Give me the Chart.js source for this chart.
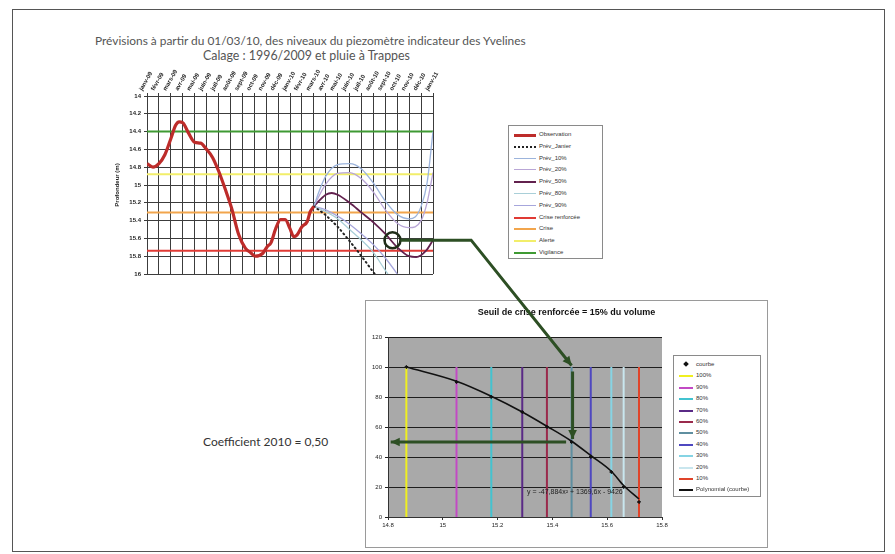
<!DOCTYPE html>
<html>
<head>
<meta charset="utf-8">
<script src="https://cdn.jsdelivr.net/npm/chart.js@4.4.1/dist/chart.umd.min.js"></script>
<style>
  body { margin: 0; background: #fff; }
  #page { position: relative; width: 895px; height: 554px; overflow: hidden; font-family: Lato, "Liberation Sans", sans-serif; }
  #frame { position: absolute; left: 12px; top: 9px; width: 873px; height: 543px; border: 1px solid #555; box-sizing: border-box; }
  .txt { position: absolute; white-space: nowrap; color: #555; font-size: 11.9px; line-height: 14px; }
  canvas { position: absolute; }
  #bottomBox { position: absolute; left: 365px; top: 300px; width: 403px; height: 248px; border: 1px solid #9a9a9a; box-sizing: border-box; background: #fff; }
  .legend { position: absolute; border: 1px solid #8a8a8a; background: #fff; box-sizing: border-box;
            font-family: "Liberation Sans", Arial, sans-serif; font-size: 6px; color: #333; }
  .legend .row { position: absolute; left: 0; right: 0; height: 10px; line-height: 10px; }
  .legend .sample { position: absolute; top: 5px; height: 0; }
  .legend .dot { position: absolute; top: 3px; width: 4px; height: 4px; background: #111; transform: rotate(45deg); }
  .legend .lbl { position: absolute; white-space: nowrap; }
  #equation { position: absolute; left: 527px; top: 488px; font-family: "Liberation Sans", Arial, sans-serif; font-size: 7px; color: #222; white-space: nowrap; }
</style>
</head>
<body>
<div id="page">
  <div id="frame"></div>
  <div class="txt" style="left:95px; top:34px;">Prévisions à partir du 01/03/10, des niveaux du piezomètre indicateur des Yvelines</div>
  <div class="txt" style="left:203px; top:49px; font-size:12.4px;">Calage : 1996/2009 et pluie à Trappes</div>
  <canvas id="topChart" width="345" height="218" style="left:100px; top:60px;"></canvas>
  <div class="legend" id="topLegend" style="left:508px; top:125px; width:95px; height:134px;"></div>

  <div id="bottomBox"></div>
  <canvas id="bottomChart" width="403" height="248" style="left:365px; top:300px;"></canvas>
  <div class="legend" id="bottomLegend" style="left:673px; top:355px; width:88px; height:142px;"></div>
  <div id="equation">y = -47,884x² + 1369,6x - 9426</div>

  <div class="txt" style="left:203px; top:435px; font-size:12px; color:#333;">Coefficient 2010 = 0,50</div>
  <canvas id="overlay" width="895" height="554" style="left:0; top:0;"></canvas>
</div>

<script>
// x axis of the top chart: one label per month, index 0 = janv-09
const monthLabels = ['janv-09', 'févr-09', 'mars-09', 'avr-09', 'mai-09', 'juin-09', 'juil-09', 'août-09',
  'sept-09', 'oct-09', 'nov-09', 'déc-09', 'janv-10', 'févr-10', 'mars-10', 'avr-10', 'mai-10', 'juin-10',
  'juil-10', 'août-10', 'sept-10', 'oct-10', 'nov-10', 'déc-10', 'janv-11'];

// observed depth (m), x in months from janv-09
const obsX = [0, 0.5, 1, 1.5, 2, 2.4, 2.7, 3, 3.5, 4, 4.5, 5, 5.5, 6, 6.6, 7.1, 7.7, 8.25, 8.7, 9.1, 9.7,
  10.1, 10.4, 10.8, 11.2, 11.6, 12, 12.3, 12.6, 13, 13.45, 13.7, 14];
const obsY = [14.76, 14.80, 14.76, 14.66, 14.48, 14.33, 14.29, 14.30, 14.42, 14.52, 14.53, 14.60, 14.69,
  14.84, 15.06, 15.26, 15.56, 15.71, 15.76, 15.80, 15.77, 15.69, 15.65, 15.49, 15.39, 15.39, 15.49, 15.58,
  15.56, 15.47, 15.41, 15.30, 15.24];

// forecasts from 01/03/10
const janierX = [14, 15, 16, 17, 18, 19, 20];
const janierY = [15.24, 15.34, 15.47, 15.63, 15.80, 15.98, 16.15];
const p10X = [14, 14.5, 15, 16, 17, 18, 19, 20, 21, 22, 22.5, 23, 23.5, 24];
const p10Y = [15.24, 15.05, 14.90, 14.77, 14.76, 14.82, 14.98, 15.18, 15.33, 15.38, 15.36, 15.24, 14.98, 14.40];
const p20X = [14, 15, 16, 17, 18, 19, 20, 21, 22, 23, 23.5, 24];
const p20Y = [15.24, 14.99, 14.87, 14.86, 14.93, 15.08, 15.28, 15.43, 15.48, 15.40, 15.20, 14.86];
const p50X = [14, 15, 15.5, 16, 17, 18, 19, 20, 21, 22, 22.6, 23.4, 24];
const p50Y = [15.24, 15.11, 15.09, 15.11, 15.20, 15.31, 15.42, 15.55, 15.70, 15.80, 15.81, 15.74, 15.62];
const p80X = [14, 15, 16, 17, 18, 19, 20, 21];
const p80Y = [15.24, 15.30, 15.38, 15.50, 15.62, 15.76, 15.96, 16.15];
const p90X = [14, 15, 16, 17, 18, 19, 20, 21, 22];
const p90Y = [15.24, 15.28, 15.35, 15.44, 15.55, 15.67, 15.82, 16.00, 16.20];

// alert thresholds (m)
const seuilNames = ['Crise renforcée', 'Crise', 'Alerte', 'Vigilance'];
const seuilValues = [15.74, 15.31, 14.88, 14.40];
const seuilColors = ['#e03a34', '#f2a54c', '#f2ee6a', '#3f9a33'];

// bottom chart: volume curve
const volumeLabels = ['100%', '90%', '80%', '70%', '60%', '50%', '40%', '30%', '20%', '10%'];
const volumePct = [100, 90, 80, 70, 60, 50, 40, 30, 20, 10];
const volumeLevels = [14.867, 15.05, 15.177, 15.29, 15.38, 15.47, 15.54, 15.615, 15.66, 15.716];
const volumeColors = ['#f0f020', '#c24ac4', '#43c3d0', '#5a2a86', '#9a2a4c', '#5f8fa0', '#4f48c0', '#86d4e4', '#c9e6ee', '#e0442a'];
const polyY = [100, 90.5, 80.5, 70, 60.5, 50.5, 41, 30.5, 21, 12];

const tickFont = { family: '"Liberation Sans", Arial, sans-serif', size: 6, weight: 'bold' };
const smallFont = { family: '"Liberation Sans", Arial, sans-serif', size: 6 };
const pts = (xs, ys) => xs.map((x, i) => ({ x, y: ys[i] }));
const fmt = v => String(+(+v).toFixed(1));

function curve(label, xs, ys, color, width, extra) {
  return Object.assign({
    label, data: pts(xs, ys), borderColor: color, backgroundColor: color, borderWidth: width,
    pointRadius: 0, cubicInterpolationMode: 'monotone', order: 1
  }, extra || {});
}

const topDatasets = [
  curve('Observation', obsX, obsY, '#bd2c2a', 3.2, { order: 0 }),
  curve('Prév_Janier', janierX, janierY, '#222', 2, { borderDash: [1, 3.5], borderCapStyle: 'round' }),
  curve('Prév_10%', p10X, p10Y, '#9cb4dc', 1.3),
  curve('Prév_20%', p20X, p20Y, '#b9a6d6', 1.3),
  curve('Prév_50%', p50X, p50Y, '#62214e', 1.8),
  curve('Prév_80%', p80X, p80Y, '#a9cfd8', 1.3),
  curve('Prév_90%', p90X, p90Y, '#a6a6dc', 1.3)
].concat(seuilNames.map((n, i) => ({
  label: n, data: [{ x: 0, y: seuilValues[i] }, { x: monthLabels.length - 1, y: seuilValues[i] }],
  borderColor: seuilColors[i], backgroundColor: seuilColors[i], borderWidth: 2, pointRadius: 0, order: 2
})));

const topChart = new Chart(document.getElementById('topChart'), {
  type: 'line',
  data: { datasets: topDatasets },
  options: {
    responsive: false,
    animation: false,
    layout: { padding: { top: 0, right: 12, bottom: 4, left: 0 } },
    plugins: { legend: { display: false }, tooltip: { enabled: false } },
    scales: {
      x: {
        type: 'linear', position: 'top', min: 0, max: monthLabels.length - 1,
        ticks: { stepSize: 1, autoSkip: false, minRotation: 60, maxRotation: 60, font: tickFont, color: '#222',
                 padding: 1, callback: v => monthLabels[Math.round(v)] },
        grid: { color: '#3c3c3c', lineWidth: 1, tickLength: 3 },
        border: { color: '#3c3c3c' },
        afterFit(s) { s.height = 36; s.paddingLeft = 0; s.paddingRight = 0; }
      },
      y: {
        reverse: true, min: 14, max: 16,
        ticks: { stepSize: 0.2, font: tickFont, color: '#222', padding: 3, callback: fmt },
        grid: { color: '#3c3c3c', lineWidth: 1, tickLength: 3 },
        border: { color: '#3c3c3c' },
        title: { display: true, text: 'Profondeur (m)', font: tickFont, color: '#222', padding: { top: 14, bottom: 0 } },
        afterFit(s) { s.width = 47; s.paddingTop = 0; s.paddingBottom = 0; }
      }
    }
  }
});

const plotFill = {
  id: 'plotFill',
  beforeDraw(chart) {
    const { ctx, chartArea: a } = chart;
    ctx.save();
    ctx.fillStyle = '#a9a9a9';
    ctx.fillRect(a.left, a.top, a.right - a.left, a.bottom - a.top);
    ctx.restore();
  }
};

const bottomDatasets = [
  { label: 'courbe', type: 'scatter', data: pts(volumeLevels, volumePct), showLine: false,
    pointStyle: 'rectRot', pointRadius: 1.6, backgroundColor: '#111', borderColor: '#111', order: 0 }
].concat(volumeLabels.map((l, i) => ({
  label: l, data: [{ x: volumeLevels[i], y: 0 }, { x: volumeLevels[i], y: volumePct[0] }],
  borderColor: volumeColors[i], backgroundColor: volumeColors[i], borderWidth: 2, pointRadius: 0, order: 2
}))).concat([
  { label: 'Polynomial (courbe)', data: pts(volumeLevels, polyY), borderColor: '#111', backgroundColor: '#111',
    borderWidth: 1.6, pointRadius: 0, cubicInterpolationMode: 'monotone', order: 1 }
]);

const bottomChart = new Chart(document.getElementById('bottomChart'), {
  type: 'line',
  data: { datasets: bottomDatasets },
  options: {
    responsive: false,
    animation: false,
    layout: { padding: { top: 0, right: 0, bottom: 17, left: 0 } },
    plugins: {
      legend: { display: false }, tooltip: { enabled: false },
      title: { display: true, text: 'Seuil de crise renforcée = 15% du volume',
               font: { family: '"Liberation Sans", Arial, sans-serif', size: 9, weight: 'bold' }, color: '#111',
               padding: { top: 7, bottom: 19.2 } }
    },
    scales: {
      x: {
        type: 'linear', min: 14.8, max: 15.8,
        ticks: { stepSize: 0.2, font: smallFont, color: '#222', padding: 2, callback: fmt },
        grid: { drawOnChartArea: false, color: '#333', tickLength: 3 },
        border: { color: '#333' },
        // reserve the legend column on the right
        afterFit(s) { s.height = 14; s.paddingLeft = 0; s.paddingRight = 106; }
      },
      y: {
        min: 0, max: 120,
        ticks: { stepSize: 20, font: smallFont, color: '#222', padding: 3 },
        grid: { color: '#1e1e1e', tickLength: 3 },
        border: { color: '#333' },
        afterFit(s) { s.width = 23; s.paddingTop = 0; s.paddingBottom = 0; }
      }
    }
  },
  plugins: [plotFill]
});

// HTML legends built from the datasets
function buildLegend(el, datasets, top0, rowH, sampleW, textX) {
  datasets.forEach((ds, i) => {
    const row = document.createElement('div');
    row.className = 'row';
    row.style.top = (top0 + i * rowH) + 'px';
    if (ds.showLine === false) {
      const d = document.createElement('div');
      d.className = 'dot';
      d.style.left = (5 + sampleW / 2 - 2) + 'px';
      row.appendChild(d);
    } else {
      const s = document.createElement('div');
      s.className = 'sample';
      s.style.left = '5px';
      s.style.width = sampleW + 'px';
      s.style.borderTop = Math.max(1, Math.round(ds.borderWidth)) + 'px ' + (ds.borderDash ? 'dotted ' : 'solid ') + ds.borderColor;
      row.appendChild(s);
    }
    const t = document.createElement('div');
    t.className = 'lbl';
    t.style.left = textX + 'px';
    t.textContent = ds.label;
    row.appendChild(t);
    el.appendChild(row);
  });
}
buildLegend(document.getElementById('topLegend'), topDatasets, 3, 11.8, 22, 30);
buildLegend(document.getElementById('bottomLegend'), bottomDatasets, 3, 11.4, 14, 22);

// annotation: circle on the forecast and arrows into the volume curve
const note = { month: 20.6, depth: 15.62, turnMonth: 27.2, level: 15.47, coef: 50 };
const ov = document.getElementById('overlay').getContext('2d');
const tc = document.getElementById('topChart'), bc = document.getElementById('bottomChart');
const tx = v => topChart.scales.x.getPixelForValue(v) + tc.offsetLeft;
const ty = v => topChart.scales.y.getPixelForValue(v) + tc.offsetTop;
const bx = v => bottomChart.scales.x.getPixelForValue(v) + bc.offsetLeft;
const by = v => bottomChart.scales.y.getPixelForValue(v) + bc.offsetTop;

function arrowHead(x0, y0, x1, y1) {
  const ang = Math.atan2(y1 - y0, x1 - x0), L = 10, W = 0.45;
  ov.beginPath();
  ov.moveTo(x1, y1);
  ov.lineTo(x1 - L * Math.cos(ang - W), y1 - L * Math.sin(ang - W));
  ov.lineTo(x1 - L * Math.cos(ang + W), y1 - L * Math.sin(ang + W));
  ov.closePath();
  ov.fill();
}
function arrow(points) {
  ov.beginPath();
  ov.moveTo(points[0][0], points[0][1]);
  for (let i = 1; i < points.length; i++) ov.lineTo(points[i][0], points[i][1]);
  ov.stroke();
  const n = points.length;
  arrowHead(points[n - 2][0], points[n - 2][1], points[n - 1][0], points[n - 1][1]);
}

ov.strokeStyle = '#2d4f24';
ov.fillStyle = '#2d4f24';
ov.lineWidth = 3;
ov.lineJoin = 'miter';
const cx = tx(note.month), cy = ty(note.depth), r = 8;
ov.save();
ov.strokeStyle = '#1f2d18';
ov.lineWidth = 2.5;
ov.beginPath();
ov.arc(cx, cy, r, 0, Math.PI * 2);
ov.stroke();
ov.restore();
arrow([[cx + r, cy], [tx(note.turnMonth), cy], [bx(note.level), by(101)]]);
arrow([[bx(note.level) + 1, by(97)], [bx(note.level) + 1, by(note.coef + 2)]]);
arrow([[bx(note.level - 0.02), by(note.coef)], [bx(14.81), by(note.coef)]]);
</script>
</body>
</html>
